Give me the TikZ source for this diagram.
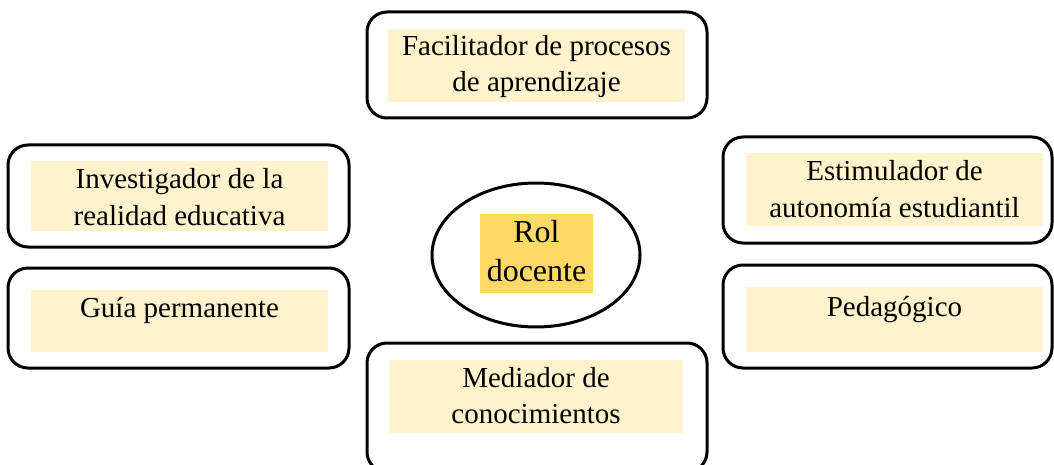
\documentclass[tikz,border=0pt]{standalone}
\usepackage{fontspec}
\setmainfont{Liberation Serif}
\definecolor{pale}{HTML}{FFF2CC}
\definecolor{gold}{HTML}{FFD966}

\begin{document}
\begin{tikzpicture}[x=1pt,y=-1pt,
    frame/.style={draw, line width=3pt, rounded corners=20pt},
    txt/.style={anchor=base, align=center, inner sep=0pt,
                font=\fontsize{29}{36}\selectfont}]
    \useasboundingbox (0,0) rectangle (1054,465);
    \clip (0,0) rectangle (1054,465);

    % top
    \draw [frame] (367,12) rectangle (707,118);
    \draw [fill=pale, draw=none] (388,29) rectangle (685,102);
    \node [txt] (facil) at (536.5,91.7) {Facilitador de procesos\\de aprendizaje};

    % centre
    \draw [line width=3pt] (536,255) ellipse (104pt and 72pt);
    \draw [fill=gold, draw=none] (480,214) rectangle (593,293);
    \node [txt, font=\fontsize{32}{39}\selectfont] (rol) at (536.5,281.7) {Rol\\docente};

    % left
    \draw [frame] (8,145) rectangle (349,247);
    \draw [fill=pale, draw=none] (31,161) rectangle (328,231);
    \node [txt] (invest) at (179.5,225) {Investigador de la\\realidad educativa};

    \draw [frame] (8,268) rectangle (349,368);
    \draw [fill=pale, draw=none] (31,290) rectangle (328,352);
    \node [txt] (guia) at (179.5,317) {Guía permanente};

    % bottom
    \draw [frame] (367,343) rectangle (707,472);
    \draw [fill=pale, draw=none] (389,360) rectangle (683,433);
    \node [txt] (media) at (536,423) {Mediador de\\conocimientos};

    % right
    \draw [frame] (723,137) rectangle (1052,243);
    \draw [fill=pale, draw=none] (746,153) rectangle (1043,226);
    \node [txt] (estim) at (894.5,217) {Estimulador de\\autonomía estudiantil};

    \draw [frame] (723,265) rectangle (1052,368);
    \draw [fill=pale, draw=none] (746,287) rectangle (1043,352);
    \node [txt] (pedag) at (894.5,316) {Pedagógico};
\end{tikzpicture}
\end{document}
